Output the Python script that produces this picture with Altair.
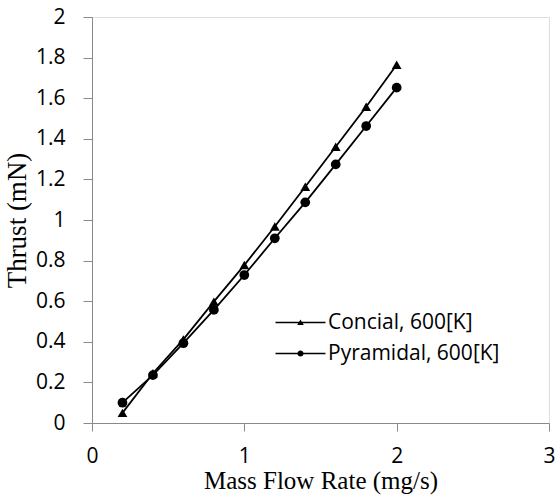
import altair as alt
import pandas as pd

mass_flow = [0.2, 0.4, 0.6, 0.8, 1.0, 1.2, 1.4, 1.6, 1.8, 2.0]
conical = [0.05, 0.245, 0.412, 0.598, 0.778, 0.968, 1.164, 1.361, 1.558, 1.765]
pyramidal = [0.10, 0.236, 0.393, 0.557, 0.729, 0.910, 1.087, 1.274, 1.463, 1.652]
series_names = ["Concial, 600[K]", "Pyramidal, 600[K]"]
x_ticks = [0, 1, 2, 3]
y_ticks = [0, 0.2, 0.4, 0.6, 0.8, 1.0, 1.2, 1.4, 1.6, 1.8, 2.0]

rows = []
for xv, yv in zip(mass_flow, conical):
    rows.append({"flow": xv, "thrust": yv, "series": series_names[0]})
for xv, yv in zip(mass_flow, pyramidal):
    rows.append({"flow": xv, "thrust": yv, "series": series_names[1]})
df = pd.DataFrame(rows)

TICK_FONT = "Open Sans"
GRAY = "#898989"

x_enc = alt.X(
    "flow:Q",
    scale=alt.Scale(domain=[0, 3], nice=False),
    axis=alt.Axis(
        values=x_ticks, format="d", title="Mass Flow Rate (mg/s)",
        titleFont="Liberation Serif", titleFontSize=25, titleFontWeight="normal",
        titleColor="black", titlePadding=2,
        labelFont=TICK_FONT, labelFontSize=21, labelColor="black", labelPadding=14,
        domainColor=GRAY, tickColor=GRAY, tickSize=8, grid=False, labelFlush=False,
    ),
)
y_enc = alt.Y(
    "thrust:Q",
    scale=alt.Scale(domain=[0, 2], nice=False),
    axis=alt.Axis(
        values=y_ticks, format=".1~f", title="Thrust (mN)",
        titleFont="Liberation Serif", titleFontSize=27, titleFontWeight="normal",
        titleColor="black", titlePadding=4,
        labelFont=TICK_FONT, labelFontSize=21, labelColor="black", labelPadding=18,
        domainColor=GRAY, tickColor=GRAY, tickSize=9, grid=False, labelFlush=False,
    ),
)

base = alt.Chart(df).encode(x=x_enc, y=y_enc, detail="series:N")

lines = base.mark_line(color="black", strokeWidth=1.8)

points = base.mark_point(filled=True, color="black", opacity=1, size=95).encode(
    shape=alt.Shape(
        "series:N",
        scale=alt.Scale(domain=series_names, range=["triangle-up", "circle"]),
        legend=None,
    )
)

# legend glyphs: a short line (thin filled bar) with the marker in its middle
bar = "M-5,-0.16L5,-0.16L5,0.16L-5,0.16Z"
tri_path = bar + "M0,-0.62L0.66,0.52L-0.66,0.52Z"
circ_path = bar + "M0.62,0A0.62,0.62,0,1,1,-0.62,0A0.62,0.62,0,1,1,0.62,0Z"

legend_layer = base.mark_point(filled=True, color="black", opacity=0).encode(
    shape=alt.Shape(
        "series:N",
        scale=alt.Scale(domain=series_names, range=[tri_path, circ_path]),
        legend=alt.Legend(
            title=None, orient="none", legendX=198, legendY=295,
            symbolSize=100, symbolOpacity=1, symbolFillColor="black",
            symbolStrokeWidth=0,
            labelFont=TICK_FONT, labelFontSize=21, labelColor="black",
            labelOffset=17, rowPadding=9, padding=0, labelLimit=400,
        ),
    )
)

chart = (
    alt.layer(lines, points, legend_layer)
    .resolve_scale(shape="independent")
    .properties(
        width=457, height=406,
        autosize=alt.AutoSizeParams(type="none"),
        padding={"left": 92, "top": 17, "right": 7, "bottom": 79},
    )
    .configure_view(stroke=GRAY, strokeWidth=1.5)
    .configure(background="white")
)

chart.save("out.html", embed_options={"renderer": "svg", "actions": False})
